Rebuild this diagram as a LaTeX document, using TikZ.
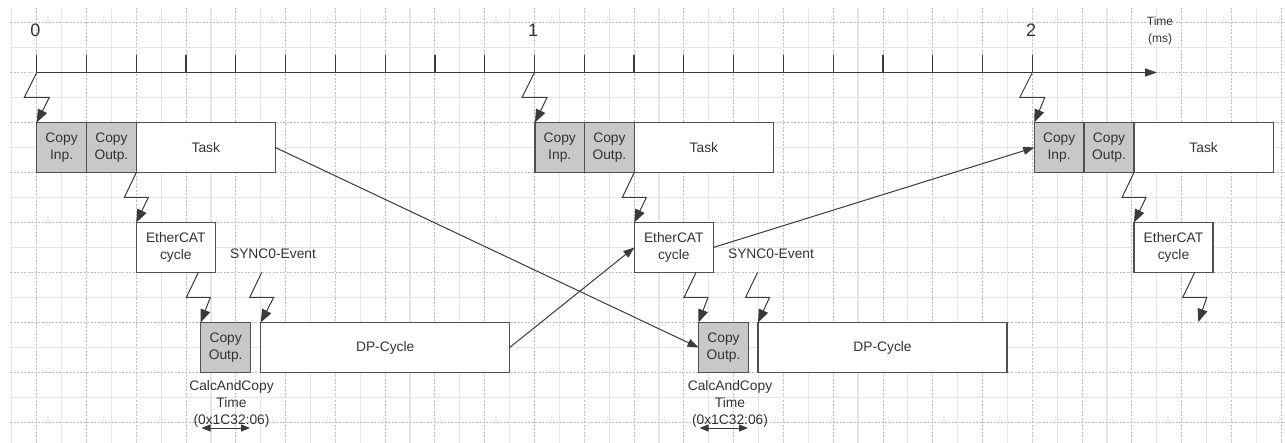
\documentclass[tikz,border=0pt]{standalone}
\usepackage{fontspec}
\setmainfont{Liberation Sans}
\usetikzlibrary{arrows.meta,calc}
\definecolor{boxline}{HTML}{505050}
\definecolor{grayfill}{HTML}{C8C8C8}
\definecolor{txt}{HTML}{333333}
\definecolor{lineclr}{HTML}{3A3A3A}
\definecolor{minorclr}{HTML}{E6E6E6}
\definecolor{majorclr}{HTML}{BDBDBD}
\begin{document}
\begin{tikzpicture}[x=1pt,y=-1pt,
  box/.style={draw=boxline, line width=1.3pt, fill=white, inner sep=0pt, outer sep=0pt,
    anchor=north west, minimum height=50pt, align=center,
    font=\fontsize{13.8}{16.8}\selectfont, text=txt},
  graybox/.style={box, fill=grayfill},
  conn/.style={draw=lineclr, line width=1pt, -{Triangle[length=13pt,width=10pt]}},
  dbl/.style={draw=lineclr, line width=1pt, {Triangle[length=9pt,width=7pt]}-{Triangle[length=9pt,width=7pt]}},
  lbl/.style={font=\fontsize{13.8}{17}\selectfont, text=txt, align=center, inner sep=0pt},
  minorline/.style={draw=minorclr, line width=1.2pt},
  majorline/.style={draw=majorclr, line width=0.9pt, dash pattern=on 2pt off 1.5pt},
  axis/.style={draw=lineclr, line width=1.2pt},
]
\useasboundingbox (0,0) rectangle (1285,443);
\fill[white] (0,0) rectangle (1285,443);
% grid
\foreach \k in {0,...,51}{
  \pgfmathsetmacro{\gx}{11.8+24.89*\k}
  \ifodd\k
    \draw[majorline] (\gx,8) -- (\gx,443);
  \else
    \draw[minorline] (\gx,8) -- (\gx,443);
  \fi
}
\foreach \j in {0,...,16}{
  \pgfmathsetmacro{\gy}{22.5+25*\j}
  \ifodd\j
    \draw[minorline] (10,\gy) -- (1285,\gy);
  \else
    \draw[majorline] (10,\gy) -- (1285,\gy);
  \fi
}
% time axis
\coordinate (a0) at (36.7,72.5);
\coordinate (a1) at (534.5,72.5);
\coordinate (a2) at (1032.3,72.5);
\coordinate (aend) at (1157,72.5);
\draw[axis, -{Triangle[length=12pt,width=8pt]}] (a0) -- (aend);
\foreach \k in {0,...,20}{
  \pgfmathsetmacro{\tx}{36.7+49.78*\k}
  \draw[axis] (\tx,72.5) -- (\tx,55.5);
}
\node[font=\fontsize{18}{20}\selectfont, text=txt] (l0) at (35.5,30) {0};
\node[font=\fontsize{18}{20}\selectfont, text=txt] (l1) at (533,30) {1};
\node[font=\fontsize{18}{20}\selectfont, text=txt] (l2) at (1031,30) {2};
\node[font=\fontsize{12}{16.5}\selectfont, text=txt, align=center] (time) at (1160,31) {Time\\(ms)};

% block 1
\node[graybox, minimum width=49.8pt] (ci1) at (36.7,122.5) {Copy\\Inp.};
\node[graybox, minimum width=49.8pt] (co1) at (86.5,122.5) {Copy\\Outp.};
\node[box, minimum width=139pt] (task1) at (136.3,122.5) {Task};
\node[box, minimum width=79pt] (eth1) at (136.3,222.5) {EtherCAT\\cycle};
\node[graybox, minimum width=50pt] (cop1) at (200.7,322.5) {Copy\\Outp.};
\node[box, minimum width=249pt] (dp1) at (260.7,322.5) {DP-Cycle};
\node[lbl] (sync1) at (273,254) {SYNC0-Event};
\node[lbl] (calc1) at (231.5,404) {CalcAndCopy\\Time\\(0x1C32:06)};

% block 2
\node[graybox, minimum width=49.5pt] (ci2) at (535,122.5) {Copy\\Inp.};
\node[graybox, minimum width=49.8pt] (co2) at (584.5,122.5) {Copy\\Outp.};
\node[box, minimum width=139.2pt] (task2) at (634.3,122.5) {Task};
\node[box, minimum width=79pt] (eth2) at (634.3,222.5) {EtherCAT\\cycle};
\node[graybox, minimum width=50pt] (cop2) at (698.5,322.5) {Copy\\Outp.};
\node[box, minimum width=249pt] (dp2) at (758,322.5) {DP-Cycle};
\node[lbl] (sync2) at (771,254) {SYNC0-Event};
\node[lbl] (calc2) at (730,404) {CalcAndCopy\\Time\\(0x1C32:06)};

% block 3
\node[graybox, minimum width=49.7pt] (ci3) at (1034.3,122.5) {Copy\\Inp.};
\node[graybox, minimum width=50pt] (co3) at (1084,122.5) {Copy\\Outp.};
\node[box, minimum width=139.3pt] (task3) at (1134,122.5) {Task};
\node[box, minimum width=79pt] (eth3) at (1134,222.5) {EtherCAT\\cycle};

% lightning connectors
\draw[conn] (a0) -- ++(-12.5,25) -- ++(25,0) -- (ci1.north west);
\draw[conn] (a1) -- ++(-12.5,25) -- ++(25,0) -- (ci2.north west);
\draw[conn] (a2) -- ++(-12.5,25) -- ++(25,0) -- (ci3.north west);
\draw[conn] (co1.south east) -- ++(-12,25) -- ++(24,0) -- (eth1.north west);
\draw[conn] (co2.south east) -- ++(-12,25) -- ++(24,0) -- (eth2.north west);
\draw[conn] (co3.south east) -- ++(-12,25) -- ++(24,0) -- (eth3.north west);
\coordinate (z1) at ([xshift=-17pt]eth1.south east);
\coordinate (z2) at ([xshift=-17.3pt]eth2.south east);
\coordinate (z3) at ([xshift=-18.3pt]eth3.south east);
\draw[conn] (z1) -- ++(-12,25) -- ++(24,0) -- (cop1.north west);
\draw[conn] (z2) -- ++(-12,25) -- ++(24,0) -- (cop2.north west);
\coordinate (e3) at (1198.3,322);
\draw[conn] (z3) -- ++(-12,25) -- ++(24,0) -- (e3);
\coordinate (s1) at (261.7,272.5);
\coordinate (s2) at (757.5,272.5);
\draw[conn] (s1) -- ++(-12,25) -- ++(24,0) -- (dp1.north west);
\draw[conn] (s2) -- ++(-12,25) -- ++(24,0) -- (dp2.north west);

% diagonal connectors
\draw[conn, -{Triangle[length=11pt,width=8pt]}] (task1.east) -- (cop2.west);
\draw[conn, -{Triangle[length=11pt,width=8pt]}] (dp1.east) -- (eth2.west);
\draw[conn, -{Triangle[length=11pt,width=8pt]}] (eth2.east) -- (ci3.west);

% calc-and-copy time spans
\coordinate (d1a) at (201.5,428);
\coordinate (d1b) at (250,428);
\coordinate (d2a) at (699.5,428);
\coordinate (d2b) at (748,428);
\draw[dbl] (d1a) -- (d1b);
\draw[dbl] (d2a) -- (d2b);
\end{tikzpicture}
\end{document}
